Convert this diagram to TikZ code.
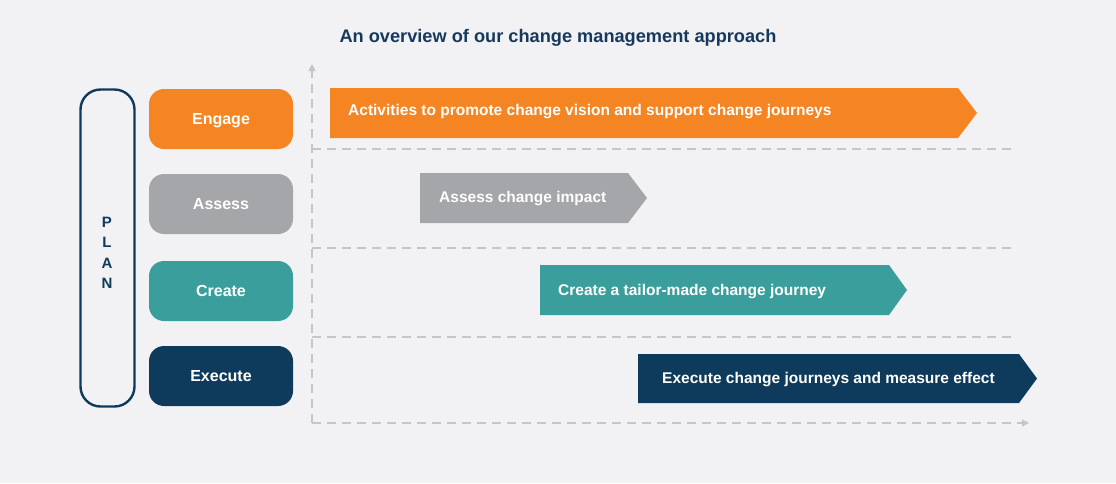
\documentclass[tikz,border=0pt]{standalone}
\usepackage{fontspec}
\setmainfont{Liberation Sans}
\usetikzlibrary{arrows.meta}
\definecolor{bgc}{HTML}{F2F2F4}
\definecolor{engc}{HTML}{F58523}
\definecolor{assc}{HTML}{A5A6A9}
\definecolor{crec}{HTML}{3A9F9C}
\definecolor{exec}{HTML}{0E3B5C}
\definecolor{titc}{HTML}{17395C}
\definecolor{gridc}{HTML}{C6C6C8}
\tikzset{
  lbl/.style={rounded corners=15pt, minimum width=144pt, minimum height=60pt, inner sep=0pt,
    text=white, text height=11.5pt, text depth=0pt, font=\bfseries\fontsize{16}{19}\selectfont},
  bartext/.style={anchor=west, inner sep=0pt, text=white, text height=11.1pt, text depth=0pt,
    font=\bfseries\fontsize{15.5}{18}\selectfont},
  grid/.style={draw=gridc, line width=1.2pt, dash pattern=on 9pt off 6pt},
}
\begin{document}
\begin{tikzpicture}[x=1pt,y=-1pt]
\fill[bgc] (0,0) rectangle (1116,483);
\useasboundingbox (0,0) rectangle (1116,483);
% title
\node[text=titc, font=\bfseries\fontsize{18.2}{21}\selectfont, inner sep=0pt, text height=13pt, text depth=0pt] (title) at (558,35.5) {An overview of our change management approach};
% PLAN box
\node[draw=exec, line width=2.4pt, rounded corners=20pt, minimum width=54pt, minimum height=317pt, inner sep=0pt] (plan) at (107.5,248) {};
\node[text=exec, font=\bfseries\fontsize{15}{20.5}\selectfont, align=center, inner sep=0pt] (plantext) at (107,253) {P\\L\\A\\N};
% left labels
\node[lbl, fill=engc] (engage) at (221,119) {Engage};
\node[lbl, fill=assc] (assess) at (221,204) {Assess};
\node[lbl, fill=crec] (create) at (221,291) {Create};
\node[lbl, fill=exec] (execute) at (221,376) {Execute};
% axes and grid
\coordinate (o) at (312,423);
\coordinate (ytop) at (312,64);
\coordinate (xend) at (1029,423);
\coordinate (g1a) at (312,149); \coordinate (g1b) at (1014,149);
\coordinate (g2a) at (312,248); \coordinate (g2b) at (1014,248);
\coordinate (g3a) at (312,337); \coordinate (g3b) at (1014,337);
\draw[grid, -{Triangle[length=7pt,width=7pt,fill=gridc]}] (o) -- (ytop);
\draw[grid, -{Triangle[length=7pt,width=7pt,fill=gridc]}] (o) -- (xend);
\draw[grid] (g1a) -- (g1b);
\draw[grid] (g2a) -- (g2b);
\draw[grid] (g3a) -- (g3b);
% banners
\fill[engc] (330,88) -- (958,88) -- (977,113) -- (958,138) -- (330,138) -- cycle;
\node[bartext] (t1) at (348,110) {Activities to promote change vision and support change journeys};
\fill[assc] (420,173) -- (628,173) -- (647,198) -- (628,223) -- (420,223) -- cycle;
\node[bartext] (t2) at (439,196.7) {Assess change impact};
\fill[crec] (540,265) -- (889,265) -- (907,290) -- (889,315) -- (540,315) -- cycle;
\node[bartext] (t3) at (558,289.7) {Create a tailor-made change journey};
\fill[exec] (638,354) -- (1019,354) -- (1037,378.5) -- (1019,403) -- (638,403) -- cycle;
\node[bartext] (t4) at (662,378) {Execute change journeys and measure effect};
\end{tikzpicture}
\end{document}
